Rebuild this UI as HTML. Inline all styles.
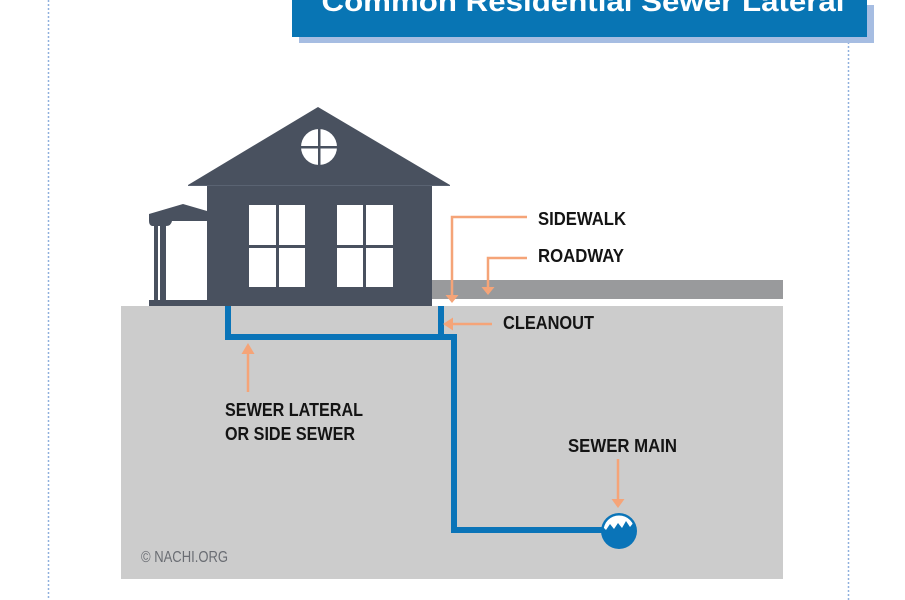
<!DOCTYPE html>
<html>
<head>
<meta charset="utf-8">
<style>
  html,body{margin:0;padding:0;background:#fff;}
  svg{display:block;}
  .lbl{font-family:"Liberation Sans",sans-serif;font-weight:bold;fill:#141414;font-size:18px;}
</style>
</head>
<body>
<svg width="905" height="600" viewBox="0 0 905 600" xmlns="http://www.w3.org/2000/svg">
  <defs>
    <clipPath id="wave">
      <polygon points="590,490 650,490 650,526 637,528 634,522 630,527 626,521 622,528 618,523 614,529 610,524 606,530 603,527 590,530"/>
    </clipPath>
  </defs>
  <!-- dotted border lines -->
  <line x1="48.5" y1="0" x2="48.5" y2="600" stroke="#8fb0de" stroke-width="1.5" stroke-dasharray="2,2"/>
  <line x1="848.5" y1="42" x2="848.5" y2="600" stroke="#8fb0de" stroke-width="1.5" stroke-dasharray="2,2"/>

  <!-- title box -->
  <rect x="299" y="5" width="575" height="38" fill="#a6bde2"/>
  <rect x="292" y="0" width="575" height="37" fill="#0875b4"/>
  <text x="583" y="11" text-anchor="middle" font-family="Liberation Sans, sans-serif" font-weight="bold" font-size="28" fill="#fff" textLength="523" lengthAdjust="spacingAndGlyphs">Common Residential Sewer Lateral</text>

  <!-- roadway -->
  <rect x="432" y="280" width="351" height="19" fill="#999a9c"/>
  <!-- ground -->
  <rect x="121" y="306" width="662" height="273" fill="#cccccc"/>

  <!-- house -->
  <g fill="#49515f">
    <polygon points="318,107 450,185 188,185"/>
    <rect x="207" y="185" width="225" height="121"/>
    <!-- porch roof -->
    <path d="M149,214 L183,204 L207,211 L207,221 L172,221 Q171,226 166,226 L152,226 Q149,225 149,221 Z"/>
    <rect x="154" y="224" width="4" height="78"/>
    <rect x="160" y="224" width="6" height="78"/>
    <rect x="149" y="300" width="58" height="6"/>
  </g>
  <line x1="188" y1="185.5" x2="450" y2="185.5" stroke="#5a6372" stroke-width="1"/>
  <!-- round window -->
  <circle cx="319" cy="147" r="18" fill="#fff"/>
  <rect x="318" y="129" width="2.5" height="36" fill="#49515f"/>
  <rect x="301" y="146" width="36" height="2.5" fill="#49515f"/>
  <!-- windows -->
  <g fill="#fff">
    <rect x="249" y="205" width="27" height="40"/>
    <rect x="279" y="205" width="26" height="40"/>
    <rect x="249" y="248" width="27" height="39"/>
    <rect x="279" y="248" width="26" height="39"/>
    <rect x="337" y="205" width="26" height="40"/>
    <rect x="366" y="205" width="27" height="40"/>
    <rect x="337" y="248" width="26" height="39"/>
    <rect x="366" y="248" width="27" height="39"/>
  </g>

  <!-- pipes -->
  <g fill="none" stroke="#0a74b8" stroke-width="6" stroke-linejoin="miter">
    <polyline points="228,306 228,337 454,337 454,530 610,530"/>
    <line x1="441" y1="306" x2="441" y2="337"/>
  </g>
  <!-- sewer main -->
  <circle cx="619" cy="531" r="18" fill="#0a74b8"/>
  <circle cx="619" cy="531" r="15.5" fill="#fff" clip-path="url(#wave)"/>

  <!-- arrows -->
  <g stroke="#f5a478" stroke-width="2.5" fill="none">
    <polyline points="527,217 452,217 452,296"/>
    <polyline points="527,258 488,258 488,288"/>
    <line x1="492" y1="324" x2="451" y2="324"/>
    <line x1="248" y1="392" x2="248" y2="352"/>
    <line x1="618" y1="459" x2="618" y2="500"/>
  </g>
  <g fill="#f5a478">
    <polygon points="445.5,295 458.5,295 452,303"/>
    <polygon points="481.5,287 494.5,287 488,295"/>
    <polygon points="453,317.5 453,330.5 443,324"/>
    <polygon points="241.5,354 254.5,354 248,343"/>
    <polygon points="611.5,499 624.5,499 618,508"/>
  </g>

  <!-- labels -->
  <text class="lbl" x="538" y="225" textLength="88" lengthAdjust="spacingAndGlyphs">SIDEWALK</text>
  <text class="lbl" x="538" y="262" textLength="86" lengthAdjust="spacingAndGlyphs">ROADWAY</text>
  <text class="lbl" x="503" y="329" textLength="91" lengthAdjust="spacingAndGlyphs">CLEANOUT</text>
  <text class="lbl" x="225" y="416" textLength="138" lengthAdjust="spacingAndGlyphs">SEWER LATERAL</text>
  <text class="lbl" x="225" y="440" textLength="130" lengthAdjust="spacingAndGlyphs">OR SIDE SEWER</text>
  <text class="lbl" x="568" y="452" textLength="109" lengthAdjust="spacingAndGlyphs">SEWER MAIN</text>

  <text x="141" y="562" font-family="Liberation Sans, sans-serif" font-size="16" fill="#6a6d73" textLength="87" lengthAdjust="spacingAndGlyphs">© NACHI.ORG</text>
</svg>
</body>
</html>
